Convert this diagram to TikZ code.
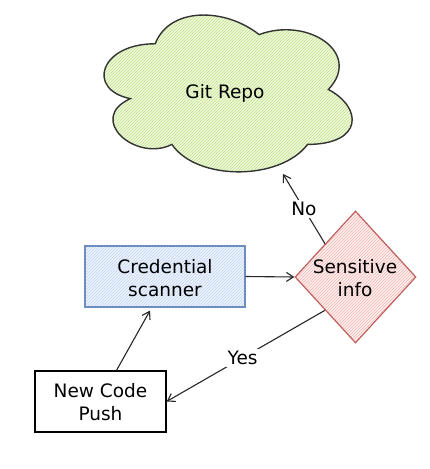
\documentclass[tikz,border=0pt]{standalone}
\usepackage{fontspec}
\setmainfont{DejaVu Sans}
\usetikzlibrary{shapes.geometric,patterns,arrows.meta}
\definecolor{greenfill}{HTML}{F1F9E2}
\definecolor{greenhatch}{HTML}{BFE27F}
\definecolor{cloudline}{HTML}{333333}
\definecolor{credfill}{HTML}{EEF4FD}
\definecolor{credhatch}{HTML}{BFD4F2}
\definecolor{credline}{HTML}{6C8EBF}
\definecolor{redfill}{HTML}{FDF0EF}
\definecolor{redhatch}{HTML}{F2B5B2}
\definecolor{redline}{HTML}{C0605C}
\begin{document}
\begin{tikzpicture}[x=1pt,y=-1pt,
  txt/.style={font=\fontsize{18.5}{23}\selectfont, align=center, text=black, inner sep=0pt},
  boxs/.style={rectangle, draw, line width=1.2pt, inner sep=0pt},
  arr/.style={-{Straight Barb[length=7pt,width=9pt]}, line width=1.1pt, draw=black!85},
  edgelbl/.style={fill=white, font=\fontsize{18.5}{23}\selectfont, inner sep=2pt}]
\useasboundingbox (0,0) rectangle (430,469);

% cloud
\draw[draw=cloudline, line width=1.4pt, preaction={fill=greenfill}, pattern=north east lines, pattern color=greenhatch]
  (155.25,43.75) .. controls (99.85,43.75) and (86,89.5) .. (130.32,98.65)
  .. controls (86,118.78) and (135.86,162.7) .. (171.87,144.4)
  .. controls (196.8,181) and (279.9,181) .. (307.6,144.4)
  .. controls (363,144.4) and (363,107.8) .. (328.375,89.5)
  .. controls (363,52.9) and (307.6,16.3) .. (259.125,34.6)
  .. controls (224.5,7.15) and (169.1,7.15) .. (155.25,43.75) -- cycle;
\node[txt] (git) at (225,93) {Git Repo};
\coordinate (gitin) at (283,174);

% credential scanner
\node[boxs, draw=credline, preaction={fill=credfill}, pattern=north east lines, pattern color=credhatch,
  minimum width=160pt, minimum height=61pt] (cred) at (165,276.5) {};
\node[txt] (credtxt) at (165,278) {Credential\\scanner};

% diamond
\node[diamond, draw=redline, line width=1.2pt, preaction={fill=redfill}, pattern=north east lines, pattern color=redhatch,
  minimum width=121pt, minimum height=132pt, inner sep=0pt] (d) at (355.5,277) {};
\node[txt] (dtxt) at (355,278) {Sensitive\\info};

% new code push
\node[boxs, draw=black, fill=white, minimum width=131pt, minimum height=61pt] (push) at (100.5,401.5) {};
\node[txt] (pushtxt) at (100.5,402) {New Code\\Push};

% connectors
\draw[arr] ([xshift=16pt]push.north) -- ([xshift=-15pt,yshift=-3pt]cred.south);
\draw[arr] (cred.east) -- (d.west);
\draw[arr] (d.south west) -- node[edgelbl, pos=0.52] (yes) {Yes} (push.east);
\draw[arr] (d.north west) -- node[edgelbl, pos=0.5] (no) {No} (gitin);
\end{tikzpicture}
\end{document}
